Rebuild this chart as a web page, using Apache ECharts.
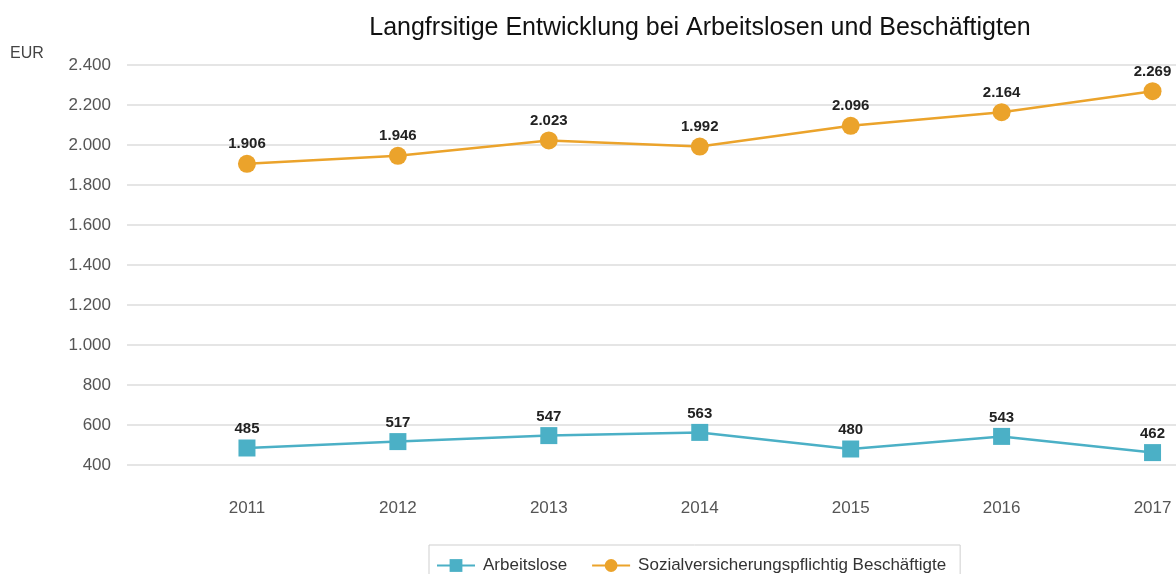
<!DOCTYPE html>
<html>
<head>
<meta charset="utf-8">
<script src="https://cdn.jsdelivr.net/npm/echarts@6/dist/echarts.min.js"></script>
<style>
  html, body { margin: 0; padding: 0; background: #fff; }
  #chart { width: 1176px; height: 574px; }
</style>
</head>
<body>
<div id="chart"></div>
<script>
const years = ['2011', '2012', '2013', '2014', '2015', '2016', '2017'];
const arbeitslose = [485, 517, 547, 563, 480, 543, 462];
const beschaeftigte = [1906, 1946, 2023, 1992, 2096, 2164, 2269];

// deutsche Tausenderpunkte
function fmt(v) {
  return String(v).replace(/\B(?=(\d{3})+(?!\d))/g, '.');
}

const chart = echarts.init(document.getElementById('chart'));

const labelStyle = {
  show: true,
  position: 'top',
  distance: 3,
  fontFamily: 'Liberation Sans',
  fontWeight: 'bold',
  fontSize: 15,
  color: '#222',
  formatter: p => fmt(p.value)
};

const option = {
  animation: false,
  title: {
    text: 'Langfrsitige Entwicklung bei Arbeitslosen und Beschäftigten',
    left: 695,
    textAlign: 'center',
    top: 11,
    textStyle: { fontFamily: 'Liberation Sans', fontSize: 25, fontWeight: 'normal', color: '#111' }
  },
  graphic: [{
    type: 'text',
    left: 10,
    top: 46,
    style: { text: 'EUR', font: '16px "Liberation Sans"', fill: '#444' }
  }],
  legend: {
    top: 545,
    left: 429,
    itemWidth: 38,
    itemHeight: 16,
    itemGap: 24,
    padding: [12, 14, 10, 7],
    borderColor: '#cfcfcf',
    borderWidth: 1,
    textStyle: { fontFamily: 'Liberation Sans', fontSize: 17, color: '#333', padding: [0, 0, 0, 3] },
    data: ['Arbeitslose', 'Sozialversicherungspflichtig Beschäftigte']
  },
  // grid 0: nur Gitterlinien und y-Beschriftung, grid 1: Daten
  grid: [
    { left: 127, right: 0, top: 65, bottom: 109, outerBoundsMode: 'none' },
    { left: 171.5, right: -52, top: 65, bottom: 109, outerBoundsMode: 'none' }
  ],
  xAxis: [
    { type: 'category', gridIndex: 0, data: years, show: false },
    {
      type: 'category',
      gridIndex: 1,
      data: years,
      boundaryGap: true,
      axisLine: { show: false },
      axisTick: { show: false },
      axisLabel: { margin: 35, fontFamily: 'Liberation Sans', fontSize: 17, color: '#555' }
    }
  ],
  yAxis: [
    {
      type: 'value',
      gridIndex: 0,
      min: 400,
      max: 2400,
      interval: 200,
      axisLine: { show: false },
      axisTick: { show: false },
      axisLabel: { margin: 16, fontFamily: 'Liberation Sans', fontSize: 17, color: '#555', formatter: v => fmt(v) },
      splitLine: { lineStyle: { color: '#dcdcdc', width: 1.5 } }
    },
    { type: 'value', gridIndex: 1, min: 400, max: 2400, interval: 200, show: false }
  ],
  series: [
    {
      name: 'Arbeitslose',
      type: 'line',
      xAxisIndex: 1,
      yAxisIndex: 1,
      data: arbeitslose,
      symbol: 'rect',
      symbolSize: 17,
      color: '#4bb0c6',
      lineStyle: { width: 2.5 },
      label: labelStyle
    },
    {
      name: 'Sozialversicherungspflichtig Beschäftigte',
      type: 'line',
      xAxisIndex: 1,
      yAxisIndex: 1,
      data: beschaeftigte,
      symbol: 'circle',
      symbolSize: 18,
      color: '#eba32b',
      lineStyle: { width: 2.5 },
      label: labelStyle
    }
  ]
};

chart.setOption(option);
</script>
</body>
</html>
